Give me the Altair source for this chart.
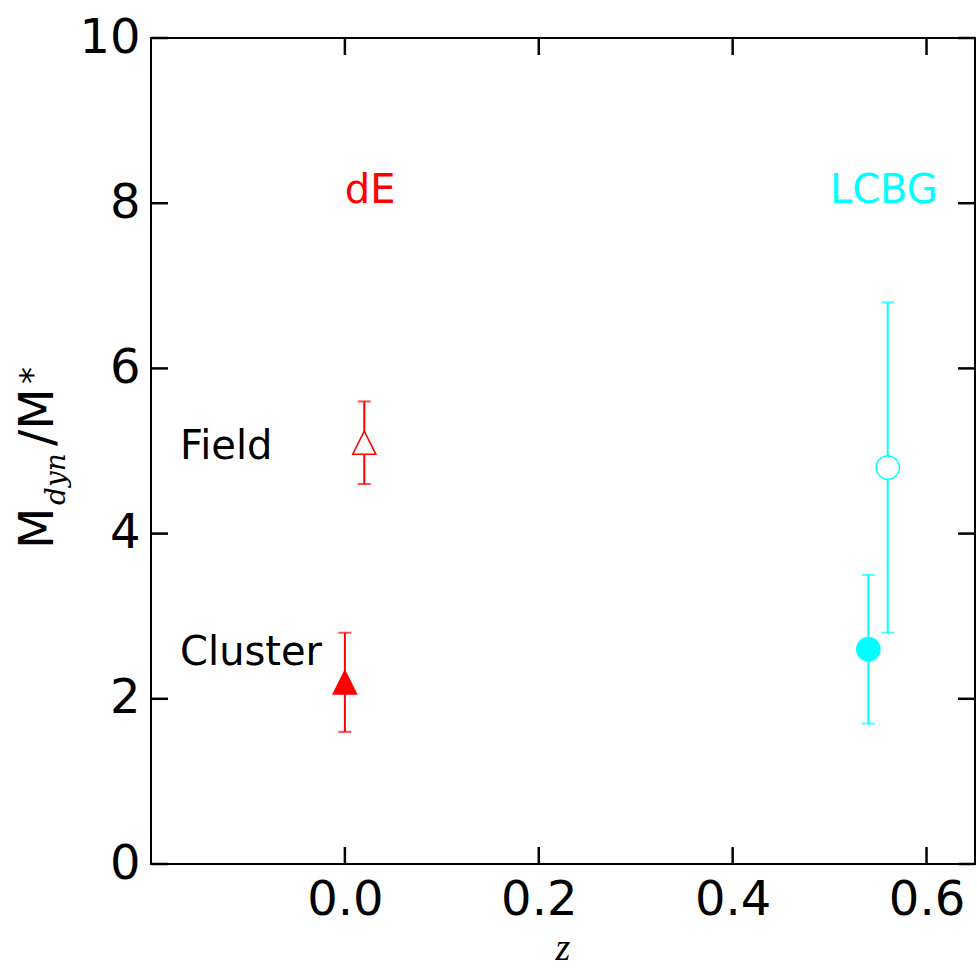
import altair as alt
import pandas as pd

# ---- data ----
groups = ["dE cluster", "dE field", "LCBG cluster", "LCBG field"]
z_vals = [0.0, 0.02, 0.54, 0.56]
ratio = [2.2, 5.1, 2.6, 4.8]
err_lo = [1.6, 4.6, 1.7, 2.8]
err_hi = [2.8, 5.6, 3.5, 6.8]
family = ["dE", "dE", "LCBG", "LCBG"]
marker = ["triangle", "triangle", "circle", "circle"]
fill_key = ["dE filled", "dE open", "LCBG filled", "LCBG open"]

label_text = ["dE", "LCBG"]
label_z = [0.026, 0.556]
label_y = [8.15, 8.15]

env_text = ["Field", "Cluster"]
env_z = [-0.170, -0.170]
env_y = [5.05, 2.55]

x_ticks = [0.0, 0.2, 0.4, 0.6]
y_ticks = [0, 2, 4, 6, 8, 10]

W, H = 824, 826
TICK = 17
FONT = "DejaVu Sans"

df = pd.DataFrame({"group": groups, "z": z_vals, "ratio": ratio, "lo": err_lo,
                   "hi": err_hi, "family": family, "marker": marker, "fillkey": fill_key})
lab_df = pd.DataFrame({"text": label_text, "z": label_z, "y": label_y, "family": ["dE", "LCBG"]})
env_df = pd.DataFrame({"text": env_text, "z": env_z, "y": env_y})
xt_df = pd.DataFrame({"v": x_ticks})
yt_df = pd.DataFrame({"v": y_ticks})

xscale = alt.Scale(domain=[-0.2, 0.65], nice=False, zero=False)
yscale = alt.Scale(domain=[0, 10], nice=False, zero=False)
col_scale = alt.Scale(domain=["dE", "LCBG"], range=["#ff0000", "#00ffff"])

xaxis = alt.Axis(values=x_ticks, format=".1f", ticks=False, domain=False, grid=False,
                 labelFontSize=48, labelFont=FONT, labelColor="black", labelPadding=12,
                 title=None)
yaxis = alt.Axis(values=y_ticks, format="d", ticks=False, domain=False, grid=False,
                 labelFontSize=48, labelFont=FONT, labelColor="black", labelPadding=11,
                 title=None)

base = alt.Chart(df)

err = base.mark_rule(strokeWidth=2).encode(
    x=alt.X("z:Q", scale=xscale, axis=xaxis),
    y=alt.Y("lo:Q", scale=yscale, axis=yaxis),
    y2="hi:Q",
    color=alt.Color("family:N", scale=col_scale, legend=None),
)
cap_lo = base.mark_tick(orient="horizontal", size=13, thickness=2).encode(
    x=alt.X("z:Q", scale=xscale), y=alt.Y("lo:Q", scale=yscale),
    color=alt.Color("family:N", scale=col_scale, legend=None),
)
cap_hi = base.mark_tick(orient="horizontal", size=13, thickness=2).encode(
    x=alt.X("z:Q", scale=xscale), y=alt.Y("hi:Q", scale=yscale),
    color=alt.Color("family:N", scale=col_scale, legend=None),
)
points = base.mark_point(filled=True, size=540, strokeWidth=1.5, opacity=1).encode(
    x=alt.X("z:Q", scale=xscale), y=alt.Y("ratio:Q", scale=yscale),
    shape=alt.Shape("marker:N", scale=alt.Scale(domain=["triangle", "circle"],
                                                range=["M0,-1L-1,1L1,1Z", "circle"]), legend=None),
    fill=alt.Fill("fillkey:N", scale=alt.Scale(domain=fill_key,
                                               range=["#ff0000", "#ffffff", "#00ffff", "#ffffff"]), legend=None),
    stroke=alt.Stroke("family:N", scale=col_scale, legend=None),
)

labels = alt.Chart(lab_df).mark_text(fontSize=40, font=FONT, align="center", baseline="middle").encode(
    x=alt.X("z:Q", scale=xscale), y=alt.Y("y:Q", scale=yscale), text="text:N",
    color=alt.Color("family:N", scale=col_scale, legend=None),
)
env = alt.Chart(env_df).mark_text(fontSize=40, font=FONT, align="left", baseline="middle", color="black").encode(
    x=alt.X("z:Q", scale=xscale), y=alt.Y("y:Q", scale=yscale), text="text:N",
)

tick_style = dict(color="black", strokeWidth=2.5)
xt_top = alt.Chart(xt_df).mark_rule(**tick_style).encode(
    x=alt.X("v:Q", scale=xscale), y=alt.value(0), y2=alt.value(TICK))
xt_bot = alt.Chart(xt_df).mark_rule(**tick_style).encode(
    x=alt.X("v:Q", scale=xscale), y=alt.value(H - TICK), y2=alt.value(H))
yt_left = alt.Chart(yt_df).mark_rule(**tick_style).encode(
    y=alt.Y("v:Q", scale=yscale), x=alt.value(0), x2=alt.value(TICK))
yt_right = alt.Chart(yt_df).mark_rule(**tick_style).encode(
    y=alt.Y("v:Q", scale=yscale), x=alt.value(W - TICK), x2=alt.value(W))

# axis titles built from text pieces
title_df = pd.DataFrame({"t": [0]})
def piece(txt, x, y, size, font=FONT, style="normal", angle=270):
    return alt.Chart(title_df).mark_text(
        text=txt, fontSize=size, font=font, fontStyle=style, angle=angle,
        align="left", baseline="alphabetic", color="black"
    ).encode(x=alt.value(x), y=alt.value(y))

t_M = piece("M", -98, 511, 48)
t_dyn = piece("dyn", -86, 467, 28, font="DejaVu Serif", style="italic")
t_slM = piece("/M", -98, 408, 48)
t_star = piece("*", -107, 346, 34)
x_title = alt.Chart(title_df).mark_text(
    text="z", fontSize=38, font="Liberation Serif", fontStyle="italic",
    align="center", baseline="alphabetic", color="black"
).encode(x=alt.value(412), y=alt.value(922))

chart = alt.layer(
    err, cap_lo, cap_hi, points, labels, env,
    xt_top, xt_bot, yt_left, yt_right,
    t_M, t_dyn, t_slM, t_star, x_title,
).properties(
    width=W, height=H,
    background="white",
    autosize=alt.AutoSizeParams(type="none"),
    padding={"left": 151, "top": 38, "right": 2, "bottom": 106},
).configure_view(stroke="black", strokeWidth=2)

chart.save("out.html", embed_options={"renderer": "svg", "actions": False})
